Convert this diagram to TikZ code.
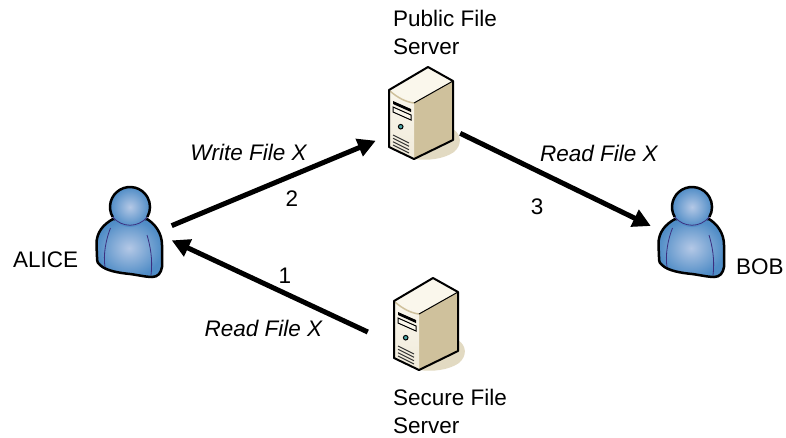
\documentclass[tikz,border=0pt]{standalone}
\usepackage{fontspec}
\setmainfont{Liberation Sans}
\usetikzlibrary{arrows.meta}
\definecolor{shadowtan}{HTML}{E2DAC2}
\definecolor{casetan}{HTML}{CFC19C}
\definecolor{caselight}{HTML}{F0EADA}
\definecolor{casecream}{HTML}{FAF7EC}
\definecolor{personblue}{HTML}{4F8CC6}
\definecolor{personlight}{HTML}{B4C8E6}
\definecolor{personline}{HTML}{3B2F80}
\begin{document}
\begin{tikzpicture}[
  x=1pt, y=-1pt,
  every node/.style={font=\fontsize{22.5}{28}\selectfont},
  label/.style={anchor=west, align=left, inner sep=0pt},
  flowlabel/.style={inner sep=0pt, font=\fontsize{22.5}{28}\selectfont\itshape},
  iconnode/.style={rectangle, inner sep=0pt, minimum height=60pt},
  flow/.style={line width=5pt, -{Triangle[length=18pt,width=18pt]}},
  server/.pic={
    \fill[shadowtan] (25,62) .. controls (34,68) and (34,78) .. (26,85) .. controls (16,92) and (0,94) .. (-14,92) -- cycle;
    \fill[casecream] (0,0) -- (25,14) -- (-14,36) -- (-39,23) -- cycle;
    \shade[left color=casetan, middle color=caselight, right color=casetan] (-14,36) -- (25,14) -- (25,73) -- (-14,92) -- cycle;
    \shade[top color=casecream, bottom color=caselight] (-39,23) -- (-14,36) -- (-14,92) -- (-39,80) -- cycle;
    \draw[casetan, line width=1.5pt] (-38,24) .. controls (-30,31) and (-22,35) .. (-14,36);
    \fill[black] (-35,34) -- (-17,42) -- (-17,45) -- (-35,37) -- cycle;
    \draw[black, fill=casecream, line width=1pt] (-35,40) -- (-17,48) -- (-17,53) -- (-35,45) -- cycle;
    \draw[black, fill=teal!70, line width=1pt] (-27.3,59.7) circle (2.3);
    \foreach \vy in {68,71.3,74.7,78}
      \draw[black!80, line width=1pt] (-35,\vy) -- (-19,\vy+8);
    \draw[black, line width=2pt, line join=round] (0,0) -- (25,14) -- (25,73) -- (-14,92) -- (-39,80) -- (-39,23) -- cycle;
    \draw[black, line width=1pt] (-14,36) -- (25,14);
  },
  person/.pic={
    \shade[inner color=personlight, outer color=personblue, draw=black, line width=2.5pt, line join=round]
      (-17,12) .. controls (-26,17) and (-34,25) .. (-33.5,38) -- (-33,50)
      .. controls (-33,55) and (-32,57) .. (-30,58)
      .. controls (-24,64) and (-10,66) .. (0,67)
      .. controls (8,68) and (16,70) .. (22,70)
      .. controls (28,70) and (31,66) .. (32,60)
      -- (32,38) .. controls (32,26) and (25,17) .. (17,12) -- cycle;
    \draw[personline, line width=0.8pt] (-19.5,21) .. controls (-24,32) and (-27,48) .. (-25,60);
    \draw[personline, line width=0.8pt] (17,28) .. controls (20,38) and (23,52) .. (21,68);
    \shade[inner color=personlight, outer color=personblue] (0,0) circle (20);
    \draw[black, line width=2.5pt] (-17.3,10) arc[start angle=150, end angle=390, radius=20];
    \draw[personline, line width=0.8pt] (-17.3,10) .. controls (-8,21) and (8,21) .. (17.3,10);
  },
  ]

\useasboundingbox (0,0) rectangle (786,437);

\pic at (130,207) {person};
\pic at (692,207) {person};
\pic at (428,67) {server};
\pic at (433,278) {server};

\node[iconnode, minimum width=83pt] (alice) at (130,233) {};
\node[iconnode, minimum width=82pt] (bob) at (692,226) {};
\node[iconnode, minimum width=84pt] (public) at (418,137) {};
\node[iconnode, minimum width=100pt] (secure) at (418,332) {};

\node[label] (alicetext) at (13,260) {ALICE};
\node[label] (bobtext) at (736,267) {BOB};
\node[label] (publictext) at (393,32) {Public File\\Server};
\node[label] (securetext) at (393,411) {Secure File\\Server};

\node[flowlabel] (write) at (248.5,152) {Write File X};
\node[flowlabel] (readsecure) at (263.5,328) {Read File X};
\node[flowlabel] (readpublic) at (599,153) {Read File X};

\node[inner sep=0pt] (one) at (285,276) {1};
\node[inner sep=0pt] (two) at (292,199) {2};
\node[inner sep=0pt] (three) at (537,207) {3};

\draw[flow] (secure.west) -- (alice.-10.9);
\draw[flow] (alice.10.9) -- (public.185.4);
\draw[flow] (public.5.4) -- (bob.west);

\end{tikzpicture}
\end{document}
